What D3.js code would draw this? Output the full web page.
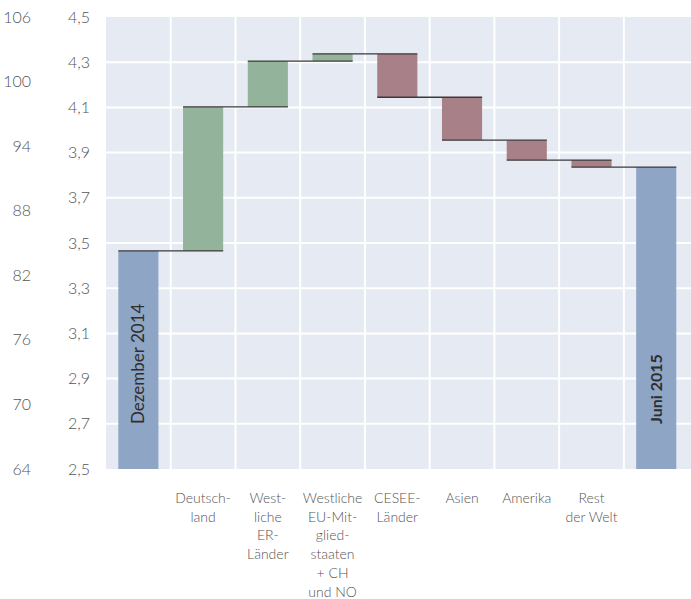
<!DOCTYPE html>
<html>
<head>
<meta charset="utf-8">
<script src="https://cdn.jsdelivr.net/npm/d3@7"></script>
<style>
    body { margin: 0; background: #fff; }
    svg { display: block; font-family: Lato, "Open Sans", sans-serif; }
</style>
</head>
<body>
<script>
// categories (line breaks as in the original labels)
const categories = [
    "Dezember 2014",
    "Deutschland",
    "Westliche ER-Länder",
    "Westliche EU-Mitgliedstaaten + CH und NO",
    "CESEE-Länder",
    "Asien",
    "Amerika",
    "Rest der Welt",
    "Juni 2015"
];
const axisLabels = [
    [],
    ["Deutsch-", "land"],
    ["West-", "liche", "ER-", "Länder"],
    ["Westliche", "EU-Mit-", "glied-", "staaten", "+ CH", "und NO"],
    ["CESEE-", "Länder"],
    ["Asien"],
    ["Amerika"],
    ["Rest", "der Welt"],
    []
];
// start value, changes, end value
const startValue = 3.465;
const changes = [0.637, 0.203, 0.032, -0.192, -0.19, -0.088, -0.031];
const endValue = 3.836;

const innerTicks = [2.5, 2.7, 2.9, 3.1, 3.3, 3.5, 3.7, 3.9, 4.1, 4.3, 4.5];
const outerTicks = [64, 70, 76, 82, 88, 94, 100, 106];

const width = 691, height = 599;
const plot = { left: 106, right: 688.6, top: 17, bottom: 469 };

const svg = d3.select("body").append("svg")
    .attr("width", width)
    .attr("height", height);

const x = d3.scaleBand()
    .domain(categories)
    .range([plot.left, plot.right])
    .padding(0);

const y = d3.scaleLinear()
    .domain([2.5, 4.5])
    .range([plot.bottom, plot.top]);

const y2 = d3.scaleLinear()
    .domain([64, 106])
    .range([plot.bottom, plot.top]);

// build waterfall rows
const rows = [];
rows.push({ name: categories[0], from: 2.5, to: startValue, kind: "total" });
let level = startValue;
changes.forEach((c, i) => {
    rows.push({ name: categories[i + 1], from: level, to: level + c, kind: c >= 0 ? "up" : "down" });
    level += c;
});
rows.push({ name: categories[8], from: 2.5, to: endValue, kind: "total" });

const colors = { total: "#8fa5c5", up: "#93b39a", down: "#a88188" };

// background
svg.append("rect")
    .attr("x", plot.left)
    .attr("y", plot.top)
    .attr("width", width - plot.left)
    .attr("height", plot.bottom - plot.top)
    .attr("fill", "#e6eaf2");

// grid
svg.append("g")
    .selectAll("line")
    .data(innerTicks.slice(1, -1))
    .join("line")
    .attr("x1", plot.left)
    .attr("x2", width)
    .attr("y1", d => y(d))
    .attr("y2", d => y(d))
    .attr("stroke", "#fff")
    .attr("stroke-width", 2);

svg.append("g")
    .selectAll("line")
    .data(categories.slice(1))
    .join("line")
    .attr("x1", d => x(d))
    .attr("x2", d => x(d))
    .attr("y1", plot.top)
    .attr("y2", plot.bottom)
    .attr("stroke", "#fff")
    .attr("stroke-width", 2);

const barW = x.bandwidth() * 0.62;
const barX = d => x(d) + (x.bandwidth() - barW) / 2;

svg.append("g")
    .selectAll("rect")
    .data(rows)
    .join("rect")
    .attr("x", d => barX(d.name))
    .attr("y", d => y(Math.max(d.from, d.to)))
    .attr("width", barW)
    .attr("height", d => Math.abs(y(d.from) - y(d.to)))
    .attr("fill", d => colors[d.kind]);

// connectors: from left of bar i to right of bar i+1
const links = rows.slice(0, -1).map((d, i) => ({ a: d.name, b: rows[i + 1].name, v: d.to }));
svg.append("g")
    .selectAll("line")
    .data(links)
    .join("line")
    .attr("x1", d => barX(d.a))
    .attr("x2", d => barX(d.b) + barW)
    .attr("y1", d => y(d.v))
    .attr("y2", d => y(d.v))
    .attr("stroke", "#3a3a3a")
    .attr("stroke-width", 1.3);

// rotated labels in total bars
const totalLabels = [
    { name: categories[0], weight: 400, size: 17 },
    { name: categories[8], weight: 700, size: 16 }
];
svg.append("g")
    .selectAll("text")
    .data(totalLabels)
    .join("text")
    .attr("transform", d => `translate(${x(d.name) + x.bandwidth() / 2 + 6},424) rotate(-90)`)
    .attr("font-size", d => d.size)
    .attr("font-weight", d => d.weight)
    .attr("fill", "#2e2e2e")
    .text(d => d.name);

// y axes
const axisColor = "#555";
svg.append("g")
    .attr("transform", `translate(90,0)`)
    .call(d3.axisLeft(y).tickValues(innerTicks).tickSize(0).tickPadding(0)
        .tickFormat(d => d3.format(".1f")(d).replace(".", ",")))
    .call(g => g.select(".domain").remove())
    .call(g => g.selectAll("text").attr("font-size", 16).attr("fill", axisColor)
        .attr("font-family", "Lato, sans-serif").attr("font-weight", 300));

svg.append("g")
    .attr("transform", `translate(31,0)`)
    .call(d3.axisLeft(y2).tickValues(outerTicks).tickSize(0).tickPadding(0))
    .call(g => g.select(".domain").remove())
    .call(g => g.selectAll("text").attr("font-size", 16).attr("fill", axisColor)
        .attr("font-family", "Lato, sans-serif").attr("font-weight", 300));

// category labels
const lab = svg.append("g")
    .selectAll("text")
    .data(categories.map((c, i) => ({ name: c, lines: axisLabels[i] })))
    .join("text")
    .attr("x", d => x(d.name) + x.bandwidth() / 2)
    .attr("y", 503)
    .attr("text-anchor", "middle")
    .attr("font-size", 14)
    .attr("font-weight", 300)
    .attr("fill", axisColor);

lab.selectAll("tspan")
    .data(d => d.lines.map(l => ({ l, cx: x(d.name) + x.bandwidth() / 2 })))
    .join("tspan")
    .attr("x", d => d.cx)
    .attr("dy", (d, i) => i === 0 ? 0 : 18.7)
    .text(d => d.l);
</script>
</body>
</html>
